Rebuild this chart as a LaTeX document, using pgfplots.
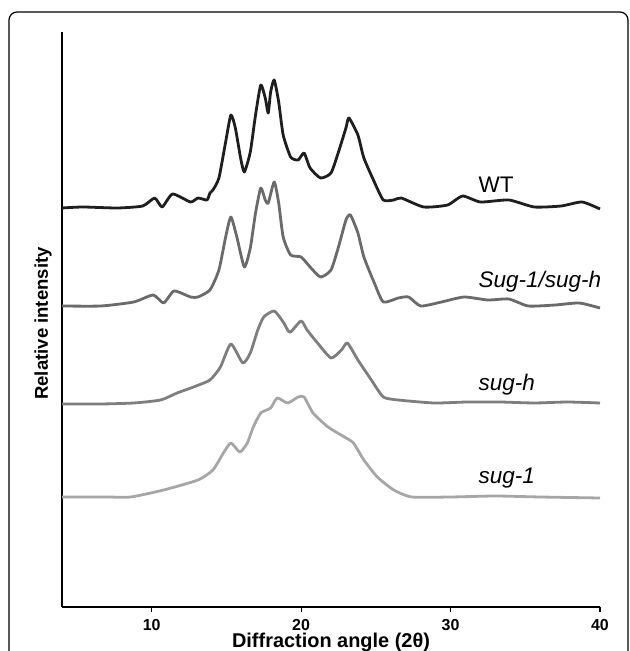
\documentclass[border=0pt]{standalone}
\usepackage{pgfplots}
\pgfplotsset{compat=1.18}
\usepackage{fontspec}
\setmainfont{Liberation Sans}
\usetikzlibrary{calc}

\definecolor{wtcol}{HTML}{1E1E1E}
\definecolor{dblcol}{HTML}{6A6A6A}
\definecolor{shcol}{HTML}{7E7E7E}
\definecolor{s1col}{HTML}{A6A6A6}

\begin{document}
\begin{tikzpicture}
\begin{axis}[
    name=ax,
    scale only axis,
    width=269bp, height=287.5bp,
    xmin=4, xmax=40, ymin=0, ymax=575,
    axis x line*=bottom, axis y line*=left,
    axis line style={line width=0.6bp},
    xtick={10,20,30,40}, ytick=\empty,
    tick align=outside, major tick length=2.5bp,
    tick style={line width=0.6bp, black},
    /pgf/number format/assume math mode=true,
    ticklabel style={font=\fontsize{8}{9}\selectfont\bfseries},
    xlabel={Diffraction angle (2θ)},
    xlabel style={font=\fontsize{10}{12}\selectfont\bfseries, at={(axis description cs:0.5,0)}, anchor=center, yshift=-17.5bp},
    clip=false,
    every axis plot/.append style={line width=1.4bp, line join=round, smooth, tension=0.35},
]
% WT
\addplot[wtcol] coordinates {
(4.0,399) (5.4,400) (7.7,399) (9.4,401) (10.2,409) (10.7,400) (11.4,413) (12.6,405)
(13.1,409) (13.7,407) (13.9,414) (14.1,417) (14.5,429) (14.95,465) (15.3,492) (15.6,479)
(15.95,449) (16.2,435) (16.6,455) (16.95,492) (17.3,522) (17.6,509) (17.8,494) (17.96,515)
(18.2,527) (18.5,505) (18.8,472) (19.3,450) (19.8,447) (20.2,454) (20.6,439) (21.3,429)
(22.0,434) (22.5,455) (23.0,479) (23.2,489) (23.8,472) (24.2,449) (24.9,425) (25.5,407)
(26.2,407) (26.7,409) (28.2,400) (29.8,402) (30.8,411) (32.0,405) (33.9,407) (35.6,400)
(37.4,401) (38.8,405) (40.0,398)};
% Sug-1/sug-h
\addplot[dblcol] coordinates {
(4.0,301) (6.6,301) (8.8,305) (10.1,312) (10.8,304) (11.5,316) (12.6,310) (13.1,310)
(13.9,317) (14.5,337) (14.95,370) (15.3,390) (15.7,370) (16.2,340) (16.6,359) (16.95,394)
(17.3,419) (17.6,407) (17.8,404) (18.2,425) (18.5,404) (18.8,370) (19.3,352) (20.0,350)
(20.6,340) (21.3,330) (22.0,337) (22.5,360) (23.0,387) (23.3,392) (23.8,374) (24.2,350)
(24.9,324) (25.5,305) (26.5,309) (27.2,310) (28.0,301) (29.4,305) (30.9,310) (32.5,307)
(33.9,308) (35.2,301) (37.0,302) (38.6,304) (40.0,299)};
% sug-h
\addplot[shcol] coordinates {
(4.0,203) (6.6,203) (8.8,204) (10.6,207) (11.7,214) (12.8,220) (13.9,227) (14.6,240)
(15.3,263) (16.1,244) (16.6,254) (17.1,277) (17.5,290) (18.2,296) (18.8,285) (19.1,277)
(19.3,275) (20.0,286) (20.4,277) (21.1,264) (22.0,249) (22.7,257) (23.1,264) (23.8,247)
(24.7,227) (25.5,210) (26.5,207) (28.9,204) (31.1,205) (33.3,205) (35.6,204) (37.8,205)
(40.0,204)};
% sug-1
\addplot[s1col] coordinates {
(4.0,110) (7.0,110) (8.6,110) (10.8,117) (13.1,127) (14.1,137) (14.8,154) (15.3,164)
(15.9,155) (16.4,164) (16.8,180) (17.3,194) (17.96,199) (18.4,209) (19.1,204) (19.8,210)
(20.2,210) (20.8,194) (21.8,180) (22.9,170) (23.5,164) (24.2,147) (25.1,130) (26.2,117)
(27.4,110) (30,110) (33,111) (36,110) (40,109)};

\node[anchor=west, font=\fontsize{11.3}{13}\selectfont, inner sep=0pt] at (axis cs:31.85,422) {WT};
\node[anchor=west, font=\fontsize{11.3}{13}\selectfont\itshape, inner sep=0pt] at (axis cs:31.85,325) {Sug-1/sug-h};
\node[anchor=west, font=\fontsize{11.3}{13}\selectfont\itshape, inner sep=0pt] at (axis cs:31.85,222) {sug-h};
\node[anchor=west, font=\fontsize{11.3}{13}\selectfont\itshape, inner sep=0pt] at (axis cs:31.85,129) {sug-1};
\end{axis}
\node[rotate=90, anchor=center, font=\fontsize{9.3}{11}\selectfont\bfseries]
    at ($(ax.west)+(-9.5bp,-2bp)$) {Relative intensity};
\draw[line width=0.6bp, rounded corners=4bp]
    ($(ax.south west)+(-26.5bp,-31.5bp)$) rectangle ($(ax.north east)+(14bp,10bp)$);
\pgfresetboundingbox
\useasboundingbox ($(ax.south west)+(-31bp,-22bp)$) rectangle ($(ax.north east)+(15bp,16bp)$);
\end{tikzpicture}
\end{document}
